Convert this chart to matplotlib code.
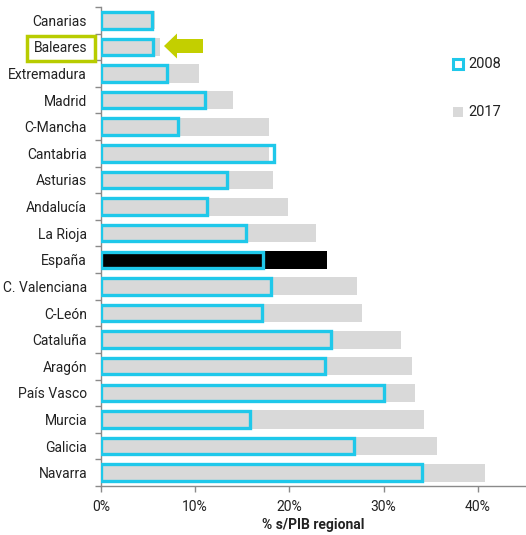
import matplotlib
matplotlib.use("Agg")
import matplotlib.pyplot as plt
import numpy as np
from matplotlib.patches import Rectangle, Polygon

regions = ["Canarias", "Baleares", "Extremadura", "Madrid", "C-Mancha", "Cantabria",
           "Asturias", "Andalucía", "La Rioja", "España", "C. Valenciana", "C-León",
           "Cataluña", "Aragón", "País Vasco", "Murcia", "Galicia", "Navarra"]
v2017 = [5.7, 6.3, 10.4, 14.0, 17.8, 17.8, 18.3, 19.9, 22.8, 24.0, 27.2, 27.7,
         31.8, 33.0, 33.3, 34.3, 35.7, 40.8]
v2008 = [5.4, 5.5, 7.0, 11.0, 8.2, 18.4, 13.4, 11.2, 15.4, 17.2, 18.0, 17.1,
         24.4, 23.8, 30.0, 15.8, 26.9, 34.1]
xticks = [0, 10, 20, 30, 40]
xticklabels = ["0%", "10%", "20%", "30%", "40%"]

plt.rcParams['font.family'] = ['Roboto', 'DejaVu Sans']

CYAN = "#1fc8ea"
GRAY = "#d9d9d9"
GREEN = "#b8cc00"
ARROW = "#c3cf00"
AX = "#8a8a8a"
TXT = "#222222"

W, H = 526, 535
fig = plt.figure(figsize=(W / 100, H / 100), dpi=100)
ax = fig.add_axes([0.192, 0.0916, 0.806, 0.8954])

y = np.arange(len(regions))
gcols = ["black" if r == "España" else GRAY for r in regions]
ax.barh(y, v2017, height=0.68, color=gcols, zorder=2)
ax.barh(y, v2008, height=0.62, facecolor="none", edgecolor=CYAN, linewidth=2.4, zorder=3)

ax.set_ylim(len(regions) - 0.5, -0.5)
ax.set_xlim(0, 45)
ax.set_yticks(y)
ax.set_yticklabels(regions, fontsize=10, color=TXT)
ax.set_yticks(np.arange(-0.5, len(regions), 1), minor=True)
ax.tick_params(axis='y', which='major', length=0, pad=10)
ax.tick_params(axis='y', which='minor', length=4, color=AX, width=1)
ax.set_xticks(xticks)
ax.set_xticklabels(xticklabels, fontsize=10, color=TXT)
ax.tick_params(axis='x', length=4, color=AX, width=1, pad=6)
for s in ["top", "right"]:
    ax.spines[s].set_visible(False)
for s in ["left", "bottom"]:
    ax.spines[s].set_color(AX)
    ax.spines[s].set_linewidth(1)
ax.set_xlabel("% s/PIB regional", fontsize=10, fontweight="bold", labelpad=3, color=TXT)

def fp(px, py):
    return (px / W, 1 - py / H)

# Baleares highlight box
fig.patches.append(Rectangle(fp(27, 61), 68 / W, 25 / H,
                             transform=fig.transFigure, fill=False,
                             edgecolor=GREEN, linewidth=2.5))
# arrow
arrow_pts = [fp(164, 46), fp(177, 33.5), fp(177, 39), fp(203, 39),
             fp(203, 53), fp(177, 53), fp(177, 58.5)]
fig.patches.append(Polygon(arrow_pts, closed=True, transform=fig.transFigure,
                           facecolor=ARROW, edgecolor="none"))

# legend
fig.patches.append(Rectangle(fp(453, 69), 10 / W, 10 / H,
                             transform=fig.transFigure, fill=False,
                             edgecolor=CYAN, linewidth=2.2))
fig.text(468 / W, 1 - 64 / H, "2008", fontsize=10.5, va="center", ha="left", color=TXT)
fig.patches.append(Rectangle(fp(453, 117), 10 / W, 10 / H,
                             transform=fig.transFigure, facecolor=GRAY, edgecolor="none"))
fig.text(468 / W, 1 - 112 / H, "2017", fontsize=10.5, va="center", ha="left", color=TXT)

fig.savefig("out.png", dpi=100)
